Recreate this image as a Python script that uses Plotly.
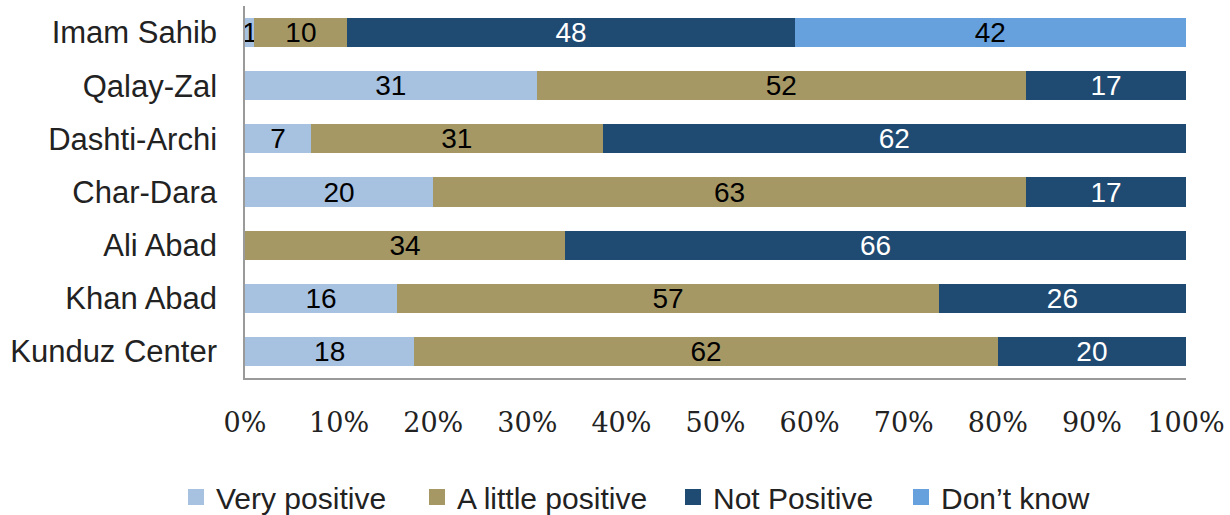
import plotly.graph_objects as go

districts = ["Imam Sahib", "Qalay-Zal", "Dashti-Archi", "Char-Dara",
             "Ali Abad", "Khan Abad", "Kunduz Center"]
very_positive = [1, 31, 7, 20, 0, 16, 18]
little_positive = [10, 52, 31, 63, 34, 57, 62]
not_positive = [48, 17, 62, 17, 66, 26, 20]
dont_know = [42, 0, 0, 0, 0, 0, 0]
tick_vals = [0, 10, 20, 30, 40, 50, 60, 70, 80, 90, 100]
tick_text = [f"{v}%" for v in tick_vals]

series = [
    ("Very positive", very_positive, "#A7C1E1", "black"),
    ("A little positive", little_positive, "#A69865", "black"),
    ("Not Positive", not_positive, "#1F4A72", "white"),
    ("Don\u2019t know", dont_know, "#66A1DD", "black"),
]

L, R, T, B = 245, 44, 6, 137
W, H = 1230, 515
plot_w = W - L - R
plot_h = H - T - B

fig = go.Figure()
for name, vals, color, tcolor in series:
    fig.add_trace(go.Bar(
        y=districts, x=vals, orientation="h", name=name,
        marker=dict(color=color, line=dict(width=0)),
        text=[str(v) if v else "" for v in vals],
        textposition="inside", insidetextanchor="middle",
        textangle=0, constraintext="none",
        textfont=dict(family="Liberation Sans, Arial, sans-serif", size=28, color=tcolor),
        showlegend=False,
    ))

# one legend per series so each entry sits at its own horizontal spot
legend_px = [176, 417, 673, 901]
legend_names = ["legend", "legend2", "legend3", "legend4"]
layout_legends = {}
for (name, vals, color, tcolor), px, lg in zip(series, legend_px, legend_names):
    fig.add_trace(go.Scatter(
        x=[None], y=[None], mode="markers", name=name,
        marker=dict(symbol="square", size=17, color=color),
        showlegend=True, legend=lg,
    ))
    layout_legends[lg] = dict(
        x=(px - L) / plot_w, xanchor="left", xref="paper",
        y=(T + plot_h - 497) / plot_h, yanchor="middle", yref="paper",
        font=dict(family="Liberation Sans, Arial, sans-serif", size=30, color="#222"),
        itemwidth=30, bgcolor="rgba(0,0,0,0)", borderwidth=0,
    )

fig.update_layout(
    barmode="stack", barnorm="percent", bargap=0.45,
    width=W, height=H,
    margin=dict(l=L, r=R, t=T, b=B, autoexpand=False),
    plot_bgcolor="white", paper_bgcolor="white",
    font=dict(family="Liberation Sans, Arial, sans-serif", color="black"),
    xaxis=dict(range=[0, 100], tickvals=tick_vals, ticktext=tick_text,
               showgrid=False, zeroline=False, showline=True,
               linecolor="#9A9A9A", linewidth=1.5, ticks="",
               ticklabelstandoff=20,
               tickfont=dict(family="DejaVu Serif, serif", size=27, color="#222")),
    yaxis=dict(autorange="reversed", showgrid=False, zeroline=False,
               showline=True, linecolor="#9A9A9A", linewidth=1.5, ticks="",
               ticklabelstandoff=20,
               tickfont=dict(family="Liberation Sans, Arial, sans-serif", size=31, color="#222")),
    **layout_legends,
)

fig.write_html("out.html")
